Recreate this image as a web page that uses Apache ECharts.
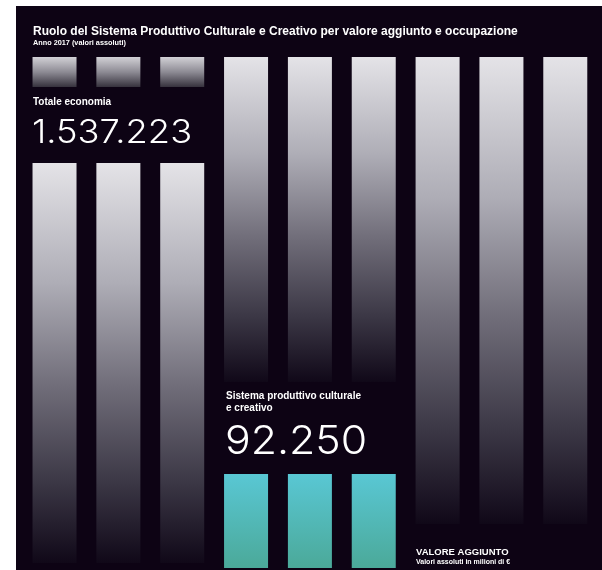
<!DOCTYPE html>
<html>
<head>
<meta charset="utf-8">
<script src="https://cdn.jsdelivr.net/npm/echarts@6/dist/echarts.min.js"></script>
<style>
  html, body { margin: 0; padding: 0; background: #ffffff; }
  #chart { width: 602px; height: 570px; }
</style>
</head>
<body>
<div id="chart"></div>
<script>
// Nine decorative columns, each built from up to three stacked blocks
// measured from the top of the plot downwards (layout units).
const columns = ['c1', 'c2', 'c3', 'c4', 'c5', 'c6', 'c7', 'c8', 'c9'];
const upperBlock = [30, 30, 30, 325, 325, 325, 467, 467, 467];
const gapBlock   = [76, 76, 76, 92, 92, 92, 0, 0, 0];
const lowerBlock = [400, 400, 400, 94, 94, 94, 0, 0, 0];

// Headline figures
const totalLabel = 'Totale economia';
const totalValue = '1.537.223';
const spccLabel = ['Sistema produttivo culturale', 'e creativo'];
const spccValue = '92.250';

const BG = '#0d0314';
const grad = (stops) => new echarts.graphic.LinearGradient(0, 0, 0, 1,
  stops.map(([o, c]) => ({ offset: o, color: c })));

const tallGray = () => grad([[0, '#e4e3e7'], [0.3, '#aeadb6'], [0.55, '#726f7b'], [0.8, '#3b3745'], [1, '#100818']]);
const shortGray = () => grad([[0, '#d2d1d6'], [0.5, '#8d8b94'], [1, '#36323d']]);
const teal = () => grad([[0, '#59c7d4'], [1, '#4ba999']]);

const upperColor = (i) => (i < 3 ? shortGray() : tallGray());
const lowerColor = (i) => (i < 3 ? tallGray() : teal());

const chart = echarts.init(document.getElementById('chart'), null, { renderer: 'canvas' });

const font = 'Liberation Sans, Arial, sans-serif';
const thin = 'Inter, Roboto, sans-serif';

chart.setOption({
  backgroundColor: '#ffffff',
  animation: false,
  grid: { left: 22.6, right: 4.8, top: 57, bottom: 0 },
  xAxis: {
    type: 'category',
    data: columns,
    show: false
  },
  yAxis: {
    type: 'value',
    inverse: true,
    min: 0,
    max: 513,
    show: false
  },
  graphic: [
    { type: 'rect', z: -10, shape: { x: 16, y: 6, width: 586, height: 564 }, style: { fill: BG } },
    { type: 'text', left: 33, top: 25.5, z: 10,
      style: { text: 'Ruolo del Sistema Produttivo Culturale e Creativo per valore aggiunto e occupazione',
        fill: '#ffffff', font: 'bold 12px ' + font } },
    { type: 'text', left: 33, top: 39.5, z: 10,
      style: { text: 'Anno 2017 (valori assoluti)', fill: '#ffffff', font: 'bold 7.3px ' + font } },
    { type: 'text', left: 33, top: 97.5, z: 10,
      style: { text: totalLabel, fill: '#ffffff', font: 'bold 10px ' + font } },
    { type: 'text', x: 32, y: 117, scaleX: 1.1, z: 10,
      style: { text: totalValue, fill: '#ffffff', font: '300 33px ' + thin, verticalAlign: 'top' } },
    { type: 'text', left: 226, top: 390.5, z: 10,
      style: { text: spccLabel.join('\n'), lineHeight: 12, fill: '#ffffff', font: 'bold 10px ' + font } },
    { type: 'text', x: 225, y: 422, scaleX: 1.07, z: 10,
      style: { text: spccValue, fill: '#ffffff', font: '300 40px ' + thin, verticalAlign: 'top' } },
    { type: 'text', left: 416, top: 547, z: 10,
      style: { text: 'VALORE AGGIUNTO', fill: '#ffffff', font: 'bold 9.5px ' + font } },
    { type: 'text', left: 416, top: 559, z: 10,
      style: { text: 'Valori assoluti in milioni di €', fill: '#ffffff', font: 'bold 7px ' + font } }
  ],
  series: [
    {
      type: 'bar', stack: 'col', barWidth: 44,
      data: upperBlock.map((v, i) => ({ value: v, itemStyle: { color: upperColor(i) } }))
    },
    {
      type: 'bar', stack: 'col', barWidth: 44,
      itemStyle: { color: 'rgba(0,0,0,0)' },
      data: gapBlock
    },
    {
      type: 'bar', stack: 'col', barWidth: 44,
      data: lowerBlock.map((v, i) => ({ value: v, itemStyle: { color: lowerColor(i) } }))
    }
  ]
});
</script>
</body>
</html>
